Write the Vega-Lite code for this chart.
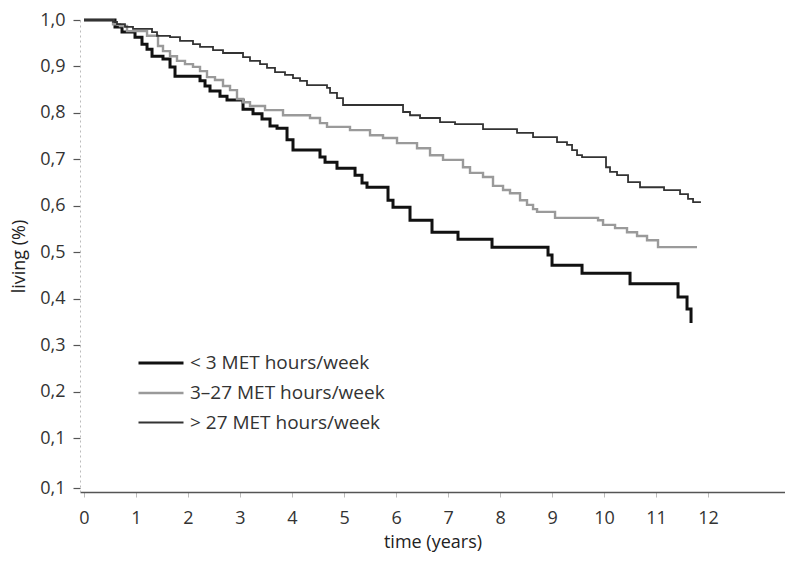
{
  "$schema": "https://vega.github.io/schema/vega-lite/v6.json",
  "autosize": "none",
  "width": 705,
  "height": 472,
  "padding": {"left": 80, "top": 20, "right": 0, "bottom": 71},
  "background": "white",
  "config": {
    "view": {"stroke": null},
    "font": "Open Sans",
    "axis": {"grid": false, "labelFont": "Open Sans", "titleFont": "Open Sans", "labelFontSize": 18, "titleFontSize": 18, "titleFontWeight": "normal", "labelColor": "#333", "titleColor": "#222"}
  },
  "data": {
    "values": [
      {"g": "< 3 MET hours/week", "t": 0, "v": 1.0},
      {"g": "< 3 MET hours/week", "t": 0.596, "v": 0.985},
      {"g": "< 3 MET hours/week", "t": 0.731, "v": 0.974},
      {"g": "< 3 MET hours/week", "t": 0.981, "v": 0.963},
      {"g": "< 3 MET hours/week", "t": 1.115, "v": 0.948},
      {"g": "< 3 MET hours/week", "t": 1.212, "v": 0.937},
      {"g": "< 3 MET hours/week", "t": 1.308, "v": 0.922},
      {"g": "< 3 MET hours/week", "t": 1.519, "v": 0.916},
      {"g": "< 3 MET hours/week", "t": 1.654, "v": 0.899},
      {"g": "< 3 MET hours/week", "t": 1.75, "v": 0.879},
      {"g": "< 3 MET hours/week", "t": 2.231, "v": 0.869},
      {"g": "< 3 MET hours/week", "t": 2.327, "v": 0.858},
      {"g": "< 3 MET hours/week", "t": 2.423, "v": 0.847},
      {"g": "< 3 MET hours/week", "t": 2.615, "v": 0.836},
      {"g": "< 3 MET hours/week", "t": 2.75, "v": 0.828},
      {"g": "< 3 MET hours/week", "t": 3.058, "v": 0.808},
      {"g": "< 3 MET hours/week", "t": 3.25, "v": 0.798},
      {"g": "< 3 MET hours/week", "t": 3.423, "v": 0.787},
      {"g": "< 3 MET hours/week", "t": 3.577, "v": 0.772},
      {"g": "< 3 MET hours/week", "t": 3.712, "v": 0.767},
      {"g": "< 3 MET hours/week", "t": 3.904, "v": 0.742},
      {"g": "< 3 MET hours/week", "t": 4.019, "v": 0.72},
      {"g": "< 3 MET hours/week", "t": 4.538, "v": 0.705},
      {"g": "< 3 MET hours/week", "t": 4.635, "v": 0.694},
      {"g": "< 3 MET hours/week", "t": 4.865, "v": 0.681},
      {"g": "< 3 MET hours/week", "t": 5.212, "v": 0.666},
      {"g": "< 3 MET hours/week", "t": 5.346, "v": 0.649},
      {"g": "< 3 MET hours/week", "t": 5.442, "v": 0.64},
      {"g": "< 3 MET hours/week", "t": 5.846, "v": 0.612},
      {"g": "< 3 MET hours/week", "t": 5.942, "v": 0.597},
      {"g": "< 3 MET hours/week", "t": 6.269, "v": 0.569},
      {"g": "< 3 MET hours/week", "t": 6.692, "v": 0.543},
      {"g": "< 3 MET hours/week", "t": 7.192, "v": 0.528},
      {"g": "< 3 MET hours/week", "t": 7.846, "v": 0.511},
      {"g": "< 3 MET hours/week", "t": 8.923, "v": 0.494},
      {"g": "< 3 MET hours/week", "t": 9.0, "v": 0.472},
      {"g": "< 3 MET hours/week", "t": 9.577, "v": 0.455},
      {"g": "< 3 MET hours/week", "t": 10.5, "v": 0.432},
      {"g": "< 3 MET hours/week", "t": 11.423, "v": 0.404},
      {"g": "< 3 MET hours/week", "t": 11.596, "v": 0.378},
      {"g": "< 3 MET hours/week", "t": 11.673, "v": 0.348},

      {"g": "3–27 MET hours/week", "t": 0, "v": 1.0},
      {"g": "3–27 MET hours/week", "t": 0.558, "v": 0.991},
      {"g": "3–27 MET hours/week", "t": 0.692, "v": 0.987},
      {"g": "3–27 MET hours/week", "t": 0.827, "v": 0.976},
      {"g": "3–27 MET hours/week", "t": 1.212, "v": 0.966},
      {"g": "3–27 MET hours/week", "t": 1.423, "v": 0.944},
      {"g": "3–27 MET hours/week", "t": 1.519, "v": 0.933},
      {"g": "3–27 MET hours/week", "t": 1.654, "v": 0.922},
      {"g": "3–27 MET hours/week", "t": 1.788, "v": 0.912},
      {"g": "3–27 MET hours/week", "t": 1.942, "v": 0.905},
      {"g": "3–27 MET hours/week", "t": 2.096, "v": 0.899},
      {"g": "3–27 MET hours/week", "t": 2.231, "v": 0.89},
      {"g": "3–27 MET hours/week", "t": 2.365, "v": 0.877},
      {"g": "3–27 MET hours/week", "t": 2.519, "v": 0.871},
      {"g": "3–27 MET hours/week", "t": 2.673, "v": 0.858},
      {"g": "3–27 MET hours/week", "t": 2.808, "v": 0.849},
      {"g": "3–27 MET hours/week", "t": 2.942, "v": 0.83},
      {"g": "3–27 MET hours/week", "t": 3.058, "v": 0.823},
      {"g": "3–27 MET hours/week", "t": 3.192, "v": 0.815},
      {"g": "3–27 MET hours/week", "t": 3.481, "v": 0.806},
      {"g": "3–27 MET hours/week", "t": 3.827, "v": 0.795},
      {"g": "3–27 MET hours/week", "t": 4.346, "v": 0.789},
      {"g": "3–27 MET hours/week", "t": 4.538, "v": 0.778},
      {"g": "3–27 MET hours/week", "t": 4.673, "v": 0.77},
      {"g": "3–27 MET hours/week", "t": 5.115, "v": 0.763},
      {"g": "3–27 MET hours/week", "t": 5.5, "v": 0.752},
      {"g": "3–27 MET hours/week", "t": 5.75, "v": 0.746},
      {"g": "3–27 MET hours/week", "t": 6.019, "v": 0.735},
      {"g": "3–27 MET hours/week", "t": 6.404, "v": 0.724},
      {"g": "3–27 MET hours/week", "t": 6.654, "v": 0.709},
      {"g": "3–27 MET hours/week", "t": 6.904, "v": 0.699},
      {"g": "3–27 MET hours/week", "t": 7.288, "v": 0.683},
      {"g": "3–27 MET hours/week", "t": 7.423, "v": 0.671},
      {"g": "3–27 MET hours/week", "t": 7.673, "v": 0.662},
      {"g": "3–27 MET hours/week", "t": 7.865, "v": 0.643},
      {"g": "3–27 MET hours/week", "t": 8.058, "v": 0.634},
      {"g": "3–27 MET hours/week", "t": 8.192, "v": 0.627},
      {"g": "3–27 MET hours/week", "t": 8.385, "v": 0.612},
      {"g": "3–27 MET hours/week", "t": 8.519, "v": 0.602},
      {"g": "3–27 MET hours/week", "t": 8.635, "v": 0.593},
      {"g": "3–27 MET hours/week", "t": 8.712, "v": 0.587},
      {"g": "3–27 MET hours/week", "t": 9.058, "v": 0.574},
      {"g": "3–27 MET hours/week", "t": 9.885, "v": 0.569},
      {"g": "3–27 MET hours/week", "t": 9.981, "v": 0.559},
      {"g": "3–27 MET hours/week", "t": 10.212, "v": 0.552},
      {"g": "3–27 MET hours/week", "t": 10.442, "v": 0.543},
      {"g": "3–27 MET hours/week", "t": 10.635, "v": 0.535},
      {"g": "3–27 MET hours/week", "t": 10.827, "v": 0.526},
      {"g": "3–27 MET hours/week", "t": 11.038, "v": 0.511},
      {"g": "3–27 MET hours/week", "t": 11.788, "v": 0.511},

      {"g": "> 27 MET hours/week", "t": 0, "v": 1.0},
      {"g": "> 27 MET hours/week", "t": 0.558, "v": 0.996},
      {"g": "> 27 MET hours/week", "t": 0.635, "v": 0.991},
      {"g": "> 27 MET hours/week", "t": 0.788, "v": 0.985},
      {"g": "> 27 MET hours/week", "t": 0.942, "v": 0.981},
      {"g": "> 27 MET hours/week", "t": 1.308, "v": 0.974},
      {"g": "> 27 MET hours/week", "t": 1.404, "v": 0.966},
      {"g": "> 27 MET hours/week", "t": 1.654, "v": 0.963},
      {"g": "> 27 MET hours/week", "t": 1.846, "v": 0.955},
      {"g": "> 27 MET hours/week", "t": 2.096, "v": 0.948},
      {"g": "> 27 MET hours/week", "t": 2.231, "v": 0.942},
      {"g": "> 27 MET hours/week", "t": 2.481, "v": 0.935},
      {"g": "> 27 MET hours/week", "t": 2.673, "v": 0.929},
      {"g": "> 27 MET hours/week", "t": 3.058, "v": 0.92},
      {"g": "> 27 MET hours/week", "t": 3.192, "v": 0.912},
      {"g": "> 27 MET hours/week", "t": 3.385, "v": 0.905},
      {"g": "> 27 MET hours/week", "t": 3.519, "v": 0.897},
      {"g": "> 27 MET hours/week", "t": 3.673, "v": 0.888},
      {"g": "> 27 MET hours/week", "t": 3.865, "v": 0.882},
      {"g": "> 27 MET hours/week", "t": 4.019, "v": 0.875},
      {"g": "> 27 MET hours/week", "t": 4.154, "v": 0.869},
      {"g": "> 27 MET hours/week", "t": 4.288, "v": 0.86},
      {"g": "> 27 MET hours/week", "t": 4.673, "v": 0.854},
      {"g": "> 27 MET hours/week", "t": 4.731, "v": 0.843},
      {"g": "> 27 MET hours/week", "t": 4.865, "v": 0.832},
      {"g": "> 27 MET hours/week", "t": 4.981, "v": 0.817},
      {"g": "> 27 MET hours/week", "t": 6.135, "v": 0.802},
      {"g": "> 27 MET hours/week", "t": 6.269, "v": 0.795},
      {"g": "> 27 MET hours/week", "t": 6.462, "v": 0.789},
      {"g": "> 27 MET hours/week", "t": 6.846, "v": 0.78},
      {"g": "> 27 MET hours/week", "t": 7.135, "v": 0.776},
      {"g": "> 27 MET hours/week", "t": 7.673, "v": 0.765},
      {"g": "> 27 MET hours/week", "t": 8.327, "v": 0.757},
      {"g": "> 27 MET hours/week", "t": 8.635, "v": 0.748},
      {"g": "> 27 MET hours/week", "t": 9.096, "v": 0.737},
      {"g": "> 27 MET hours/week", "t": 9.288, "v": 0.731},
      {"g": "> 27 MET hours/week", "t": 9.385, "v": 0.72},
      {"g": "> 27 MET hours/week", "t": 9.481, "v": 0.709},
      {"g": "> 27 MET hours/week", "t": 9.577, "v": 0.705},
      {"g": "> 27 MET hours/week", "t": 10.038, "v": 0.683},
      {"g": "> 27 MET hours/week", "t": 10.115, "v": 0.673},
      {"g": "> 27 MET hours/week", "t": 10.25, "v": 0.666},
      {"g": "> 27 MET hours/week", "t": 10.462, "v": 0.651},
      {"g": "> 27 MET hours/week", "t": 10.692, "v": 0.64},
      {"g": "> 27 MET hours/week", "t": 11.154, "v": 0.634},
      {"g": "> 27 MET hours/week", "t": 11.462, "v": 0.625},
      {"g": "> 27 MET hours/week", "t": 11.615, "v": 0.615},
      {"g": "> 27 MET hours/week", "t": 11.712, "v": 0.608},
      {"g": "> 27 MET hours/week", "t": 11.846, "v": 0.606}
    ]
  },
  "mark": {"type": "line", "interpolate": "step-after", "clip": false},
  "encoding": {
    "x": {
      "field": "t", "type": "quantitative",
      "scale": {"domain": [-0.077, 13.48], "nice": false, "zero": false},
      "axis": {
        "title": "time (years)",
        "values": [0, 1, 2, 3, 4, 5, 6, 7, 8, 9, 10, 11, 12],
        "format": "d",
        "domainColor": "#555", "domainWidth": 1.5,
        "tickColor": "#bbb", "tickSize": 5, "tickWidth": 1,
        "labelPadding": 12, "titlePadding": 6
      }
    },
    "y": {
      "field": "v", "type": "quantitative",
      "scale": {"domain": [-0.016, 1.0], "nice": false, "zero": false},
      "axis": {
        "title": "living (%)",
        "values": [-0.008, 0.1, 0.2, 0.3, 0.4, 0.5, 0.6, 0.7, 0.8, 0.9, 1.0],
        "labelExpr": "datum.value < 0.05 ? '0,1' : replace(format(datum.value, '.1f'), '.', ',')",
        "domainColor": "#bbb", "domainDash": [2, 3], "domainWidth": 1,
        "tickColor": "#555", "tickSize": 7, "tickWidth": 1.2,
        "labelPadding": 8, "titlePadding": 11
      }
    },
    "color": {
      "field": "g", "type": "nominal",
      "scale": {
        "domain": ["< 3 MET hours/week", "3–27 MET hours/week", "> 27 MET hours/week"],
        "range": ["#111111", "#9a9a9a", "#333333"]
      },
      "legend": {
        "title": null,
        "orient": "none", "legendX": 57, "legendY": 319,
        "symbolType": "stroke", "symbolSize": 2025, "symbolStrokeWidth": 2.5,
        "labelFont": "Open Sans", "labelFontSize": 19, "labelColor": "#333",
        "labelLimit": 400, "gridAlign": "none",
        "labelOffset": 5, "rowPadding": -4, "padding": 0
      }
    },
    "strokeWidth": {
      "field": "g", "type": "nominal",
      "scale": {
        "domain": ["< 3 MET hours/week", "3–27 MET hours/week", "> 27 MET hours/week"],
        "range": [3, 1.8, 2]
      },
      "legend": null
    }
  }
}
